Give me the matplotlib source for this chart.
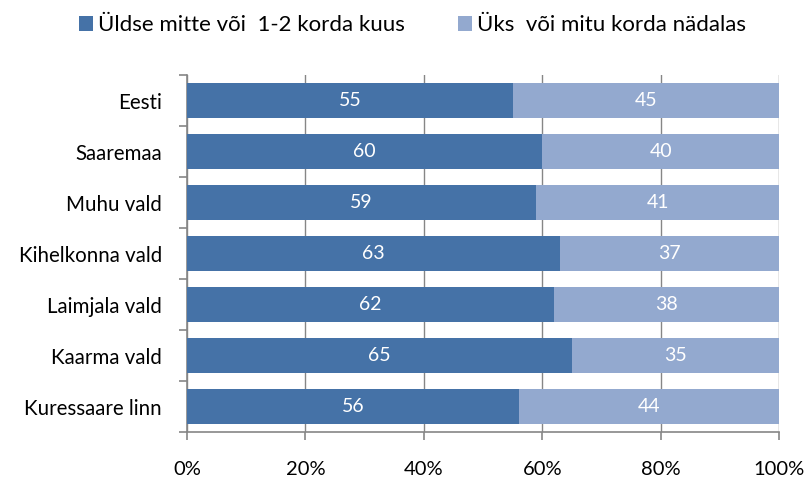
import numpy as np
import matplotlib.pyplot as plt

# survey shares per area, top to bottom
areas = ['Eesti', 'Saaremaa', 'Muhu vald', 'Kihelkonna vald', 'Laimjala vald',
         'Kaarma vald', 'Kuressaare linn']
rarely = [55, 60, 59, 63, 62, 65, 56]
weekly = [45, 40, 41, 37, 38, 35, 44]
series_names = ['Üldse mitte või  1-2 korda kuus', 'Üks  või mitu korda nädalas']

dark = '#4572A7'
light = '#93A9CF'
grid_col = '#868686'

plt.rcParams['font.family'] = ['Lato', 'DejaVu Sans']

fig = plt.figure(figsize=(8.05, 4.79), dpi=100)
ax = fig.add_axes([0.2323, 0.0981, 0.7354, 0.7453])

y = np.arange(len(areas))
h = 0.67
b1 = ax.barh(y, rarely, height=h, color=dark, label=series_names[0], zorder=3)
b2 = ax.barh(y, weekly, left=rarely, height=h, color=light, label=series_names[1], zorder=3)

for vals, lefts in [(rarely, [0] * len(rarely)), (weekly, rarely)]:
    for yi, v, l in zip(y, vals, lefts):
        ax.text(l + v / 2, yi, str(v), ha='center', va='center',
                color='white', fontsize=14, zorder=4)

ax.set_xlim(0, 100)
ax.set_ylim(len(areas) - 0.5, -0.5)
ax.set_xticks(np.arange(0, 101, 20))
ax.set_xticklabels([f'{v}%' for v in range(0, 101, 20)], fontsize=14.5)
ax.set_yticks(y)
ax.set_yticklabels(areas, fontsize=14.8)
ax.set_yticks(np.arange(-0.5, len(areas), 1), minor=True)

ax.grid(axis='x', color=grid_col, linewidth=1, zorder=0)
for s in ['top', 'right']:
    ax.spines[s].set_visible(False)
for s in ['left', 'bottom']:
    ax.spines[s].set_color(grid_col)
    ax.spines[s].set_linewidth(1.2)

ax.tick_params(axis='y', which='major', length=0, pad=18)
ax.tick_params(axis='y', which='minor', length=6, color=grid_col, width=1.2)
ax.tick_params(axis='x', length=6, color=grid_col, width=1.2, pad=15)

fig.legend(loc='upper center', bbox_to_anchor=(0.512, 1.01), ncol=2, frameon=False,
           fontsize=16, handlelength=0.65, handleheight=0.65, handletextpad=0.2,
           columnspacing=2.4)

fig.savefig('out.png', dpi=100)
